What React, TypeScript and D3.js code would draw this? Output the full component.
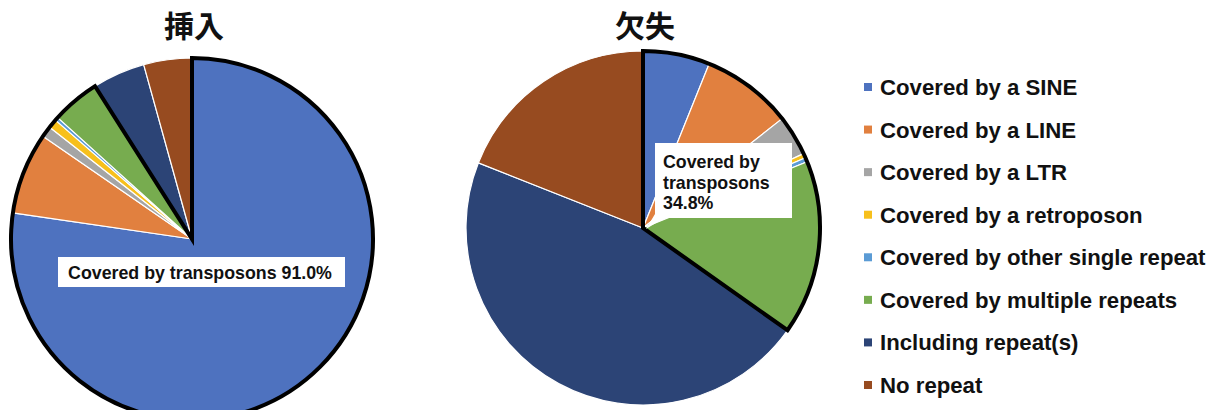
import React, { useEffect, useRef } from "react";
import * as d3 from "d3";

const categories = [
  "Covered by a SINE",
  "Covered by a LINE",
  "Covered by a LTR",
  "Covered by a retroposon",
  "Covered by other single repeat",
  "Covered by multiple repeats",
  "Including repeat(s)",
  "No repeat",
];
const colors = ["#4E72BF", "#E1803F", "#A5A5A5", "#F7C01C", "#5B9BD5", "#77AC4F", "#2C4476", "#974B20"];
const insertionValues = [77.3, 7.3, 1.0, 0.8, 0.3, 4.3, 4.7, 4.3];
const deletionValues = [6.1, 8.3, 3.7, 0.4, 0.4, 15.9, 46.2, 19.0];
const transposonCount = 6;
const titles = ["挿入", "欠失"];
const labelInsertion = ["Covered by transposons 91.0%"];
const labelDeletion = ["Covered by", "transposons", "34.8%"];

export default function App() {
  const ref = useRef<SVGSVGElement>(null);
  useEffect(() => {
    const svg = d3.select(ref.current);
    svg.selectAll("*").remove();
    const font = "'Liberation Sans', Arial, sans-serif";

    const pies = [
      { values: insertionValues, cx: 192, cy: 239, r: 181, title: titles[0] },
      { values: deletionValues, cx: 643, cy: 228, r: 177, title: titles[1] },
    ];

    pies.forEach((p) => {
      const g = svg.append("g").attr("transform", `translate(${p.cx},${p.cy})`);
      const pie = d3.pie<number>().sort(null).value((d) => d);
      const arcs = pie(p.values);
      const arc = d3.arc<d3.PieArcDatum<number>>().innerRadius(0).outerRadius(p.r);
      g.selectAll("path.slice")
        .data(arcs)
        .enter()
        .append("path")
        .attr("class", "slice")
        .attr("d", arc as any)
        .attr("fill", (_d, i) => colors[i])
        .attr("stroke", "#fff")
        .attr("stroke-width", 1.2)
        .attr("stroke-linejoin", "round");
      const end = arcs[transposonCount - 1].endAngle;
      const outline = d3.arc<any>().innerRadius(0).outerRadius(p.r)({ startAngle: 0, endAngle: end } as any);
      g.append("path")
        .attr("d", outline as string)
        .attr("fill", "none")
        .attr("stroke", "#000")
        .attr("stroke-width", 4)
        .attr("stroke-linejoin", "miter");
      svg
        .append("text")
        .attr("x", p.cx + 2)
        .attr("y", 37)
        .attr("text-anchor", "middle")
        .attr("font-family", "'Noto Sans CJK JP', sans-serif")
        .attr("font-weight", "bold")
        .attr("font-size", 30)
        .attr("fill", "#111")
        .text(p.title);
    });

    // Insertion label
    svg.append("rect").attr("x", 58).attr("y", 257).attr("width", 287).attr("height", 30).attr("fill", "#fff");
    svg
      .append("text")
      .attr("x", 200)
      .attr("y", 279)
      .attr("text-anchor", "middle")
      .attr("font-family", font)
      .attr("font-weight", "bold")
      .attr("font-size", 17.8)
      .attr("fill", "#111")
      .text(labelInsertion[0]);

    // Deletion callout
    svg
      .append("path")
      .attr("d", "M655,143 H792 V218 H664 L646,229 L655,214 Z")
      .attr("fill", "#fff");
    labelDeletion.forEach((t, i) => {
      svg
        .append("text")
        .attr("x", 663)
        .attr("y", 168 + i * 20.5)
        .attr("font-family", font)
        .attr("font-weight", "bold")
        .attr("font-size", 17.8)
        .attr("fill", "#111")
        .text(t);
    });

    // Legend
    const lg = svg.append("g");
    categories.forEach((c, i) => {
      const y = 87 + i * 42.57;
      lg.append("rect").attr("x", 864).attr("y", y - 4).attr("width", 8).attr("height", 8).attr("fill", colors[i]);
      lg.append("text")
        .attr("x", 880)
        .attr("y", y + 8)
        .attr("font-family", font)
        .attr("font-weight", "bold")
        .attr("font-size", 22.2)
        .attr("fill", "#111")
        .text(c);
    });
  }, []);
  return (
    <svg
      ref={ref}
      width={1222}
      height={410}
      style={{ position: "absolute", left: 0, top: 0, background: "#fff" }}
    />
  );
}
